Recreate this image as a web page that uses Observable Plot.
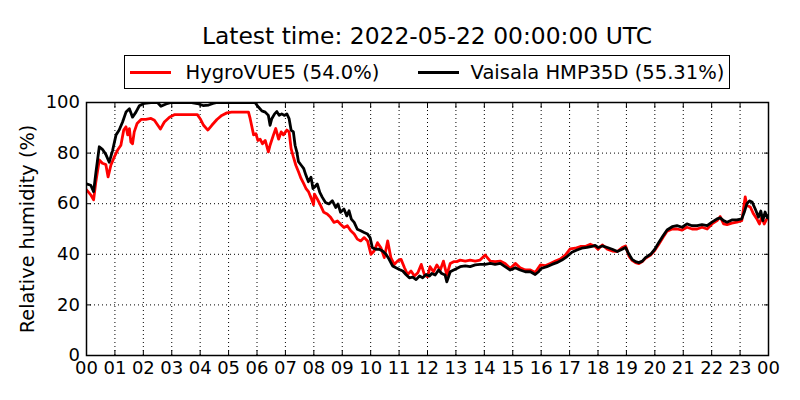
<!DOCTYPE html>
<html>
<head>
<meta charset="utf-8">
<script src="https://cdn.jsdelivr.net/npm/d3@7"></script>
<script src="https://cdn.jsdelivr.net/npm/@observablehq/plot@0.6"></script>
<style>
  body { margin: 0; background: #fff; font-family: "DejaVu Sans", sans-serif; color: #000; }
  #wrap { position: relative; width: 800px; height: 400px; overflow: hidden; }
  #title { position: absolute; left: 86px; width: 682px; top: 25px; text-align: center; font-size: 23.4px; line-height: 23.4px; white-space: nowrap; }
  #legend { position: absolute; left: 124px; top: 55px; width: 604px; height: 32px; border: 1px solid #000; font-size: 19.5px; }
  .item { position: absolute; top: 0; height: 32px; display: flex; align-items: center; white-space: nowrap; }
  .swatch { display: inline-block; width: 41px; height: 3px; }
  #chart { position: absolute; left: 0; top: 95px; }
</style>
</head>
<body>
<div id="wrap">
  <div id="title"></div>
  <div id="legend"></div>
  <div id="chart"></div>
</div>
<script>
const titleText = "Latest time: 2022-05-22 00:00:00 UTC";
const seriesNames = ["HygroVUE5 (54.0%)", "Vaisala HMP35D (55.31%)"];
const seriesColors = ["#ff0000", "#000000"];
const yLabel = "Relative humidity (%)";
const hourTicks = [0,1,2,3,4,5,6,7,8,9,10,11,12,13,14,15,16,17,18,19,20,21,22,23,24];
const hourTickLabels = ["00","01","02","03","04","05","06","07","08","09","10","11","12","13","14","15","16","17","18","19","20","21","22","23","00"];
const rhTicks = [0,20,40,60,80,100];

// HygroVUE5 (red): hour of day, relative humidity (%)
const redHour = [0,0.15,0.25,0.33,0.45,0.56,0.68,0.76,0.86,0.98,1.09,1.21,1.31,1.39,1.45,1.51,1.56,1.62,1.68,1.78,1.92,2.09,2.27,2.39,2.51,2.6,2.74,2.92,3.09,3.5,3.9,4.0,4.12,4.27,4.41,4.59,4.76,4.94,5.11,5.4,5.7,5.76,5.82,5.88,5.96,6.03,6.11,6.19,6.29,6.4,6.46,6.58,6.66,6.76,6.85,6.93,7.05,7.13,7.2,7.28,7.37,7.46,7.55,7.64,7.72,7.81,7.91,7.99,8.02,8.12,8.24,8.35,8.47,8.59,8.71,8.83,8.94,9.06,9.18,9.3,9.42,9.53,9.65,9.77,9.89,10.01,10.12,10.24,10.36,10.48,10.6,10.71,10.83,10.95,11.07,11.19,11.3,11.42,11.54,11.66,11.78,11.89,12.0,12.09,12.21,12.33,12.45,12.56,12.68,12.8,12.92,13.03,13.15,13.33,13.5,13.68,13.85,14.03,14.21,14.38,14.56,14.73,14.91,15.09,15.26,15.44,15.62,15.79,15.97,16.14,16.32,16.5,16.67,16.85,17.02,17.2,17.38,17.55,17.73,17.9,18.0,18.15,18.33,18.5,18.68,18.85,18.97,19.09,19.2,19.32,19.44,19.56,19.67,19.85,20.0,20.14,20.29,20.43,20.61,20.78,20.96,21.13,21.31,21.49,21.66,21.84,22.01,22.19,22.3,22.42,22.54,22.71,22.89,23.06,23.18,23.24,23.36,23.47,23.59,23.68,23.76,23.85,23.94,24.0];
const redRH = [65.5,63.5,61.5,68.7,77.3,76,75.5,70.6,75.3,78.5,81.1,83.1,89.1,90.4,87.2,89.7,84.4,83.7,88.4,91.7,93.3,93.3,93.7,93,91,89.5,92.3,94.2,95.2,95.2,95.2,93.6,91,89.1,91,93.3,94.9,95.9,96.2,96.2,96.2,93.6,90.4,87.2,87.7,85,85.5,83.7,85,80.5,83.1,87.2,89.7,85.5,88.4,87.2,89.1,88.4,81.8,78.5,75.1,72.6,70,68,66.1,64.8,62.1,59.6,63.8,61.9,59.2,56.6,55.9,54.6,52.6,53.2,51.9,50.6,51.3,49.3,48,46,45.3,46.6,45.3,40,41.3,44.6,42.6,38.7,45.3,38.7,36,37.4,38,34.7,32,33.4,31.4,32.7,36,32,31.1,35.1,33.1,35.8,33.8,37.3,31.8,36.4,37.1,37.1,37.7,37.3,37.7,37.3,37.7,39.7,37.3,37.1,37.3,36.4,34.4,36.4,34.7,33.8,33.8,32.8,35.8,35.5,36.4,37.3,38.1,39.7,42.1,42.4,43.1,43.1,44,43.1,42,43.7,42,41.3,41.1,42.7,43.3,39.3,37.6,36.7,36.3,37.1,38.4,39.7,41.6,44,46.7,49.1,50,50,49.6,50.7,50,50,50.7,50,52,53.3,54.9,52,51.7,52.3,52.7,53.3,62.7,59.3,58.7,56,54,52,54.7,52,54,54.0];

// Vaisala HMP35D (black): hour of day, relative humidity (%)
const blackHour = [0,0.15,0.25,0.33,0.45,0.56,0.68,0.8,0.92,1.04,1.15,1.27,1.39,1.51,1.62,1.74,1.86,2.04,2.27,2.5,2.62,2.8,2.98,3.3,3.7,3.9,4.1,4.3,4.45,4.6,5.2,5.88,5.94,6.05,6.17,6.29,6.4,6.46,6.52,6.62,6.7,6.78,6.87,6.97,7.05,7.13,7.2,7.28,7.34,7.4,7.46,7.55,7.64,7.72,7.81,7.9,7.97,8.02,8.12,8.21,8.3,8.41,8.53,8.65,8.77,8.85,8.94,9.06,9.16,9.24,9.32,9.42,9.53,9.65,9.77,9.89,9.98,10.06,10.18,10.3,10.42,10.54,10.65,10.77,10.89,11.01,11.13,11.24,11.36,11.48,11.6,11.72,11.83,11.95,12.07,12.15,12.27,12.39,12.5,12.62,12.68,12.8,12.92,13.03,13.15,13.33,13.5,13.68,13.85,14.03,14.21,14.38,14.56,14.73,14.91,15.09,15.26,15.44,15.62,15.79,15.91,16.0,16.2,16.38,16.55,16.73,16.91,17.08,17.26,17.43,17.61,17.79,17.9,18.0,18.15,18.33,18.5,18.68,18.85,18.97,19.09,19.2,19.32,19.44,19.56,19.67,19.85,20.0,20.14,20.29,20.43,20.61,20.78,20.96,21.13,21.31,21.49,21.66,21.84,22.01,22.19,22.3,22.42,22.54,22.71,22.89,23.06,23.15,23.24,23.33,23.42,23.53,23.65,23.73,23.8,23.88,23.96,24.0];
const blackRH = [67.8,67.3,64.8,72.3,82.5,81.5,79.5,76.4,81.1,87.2,89.1,92.3,96.2,97.5,94.2,96.2,98.7,99.7,100,100,98.5,99.4,100,100,100,99.6,98.8,99,99.6,100,100,100,99.8,98.2,96.7,96.2,94.9,91,93.6,95.5,96.4,94.9,95.5,94.9,95.5,93.6,89.1,88.4,83.1,80.5,76.6,75.3,74,71.3,68.7,70.5,66,66.5,67.8,64.5,62.5,60.5,59.9,61.2,58.5,59.9,56.6,57.9,55.2,57.2,53.9,52.6,49.9,49.3,48.6,48,46.6,42.6,42,42,41.3,40,38,35.4,34.7,34,33.4,32,30.7,31,30,31.4,30.7,32,31.4,32.4,31.8,33.8,32.4,31.8,29.1,33.1,33.8,34.4,35.1,35.4,35.1,35.8,36,36,36.4,36,36.4,35.1,33.8,34.7,33.8,33.1,33.1,32,33.1,34.4,35.1,36,36.7,37.7,39.1,40.8,41.7,42.4,42.7,43.1,43.5,42.7,43.3,42.7,42,41.1,42,42.7,40,38,37.1,36.7,37.3,38.7,40,42,44.7,47.3,49.6,50.9,51.3,50.7,52,51.3,51.3,51.7,51.3,52.7,54,54.4,53.3,52.7,53.6,53.6,54,56.7,60,61.1,60.7,58,54.7,57.1,53.3,56.7,54.5,55.3];

const red = redHour.map((h, i) => ({hour: h, rh: redRH[i]}));
const black = blackHour.map((h, i) => ({hour: h, rh: blackRH[i]}));

document.getElementById("title").textContent = titleText;
const legend = document.getElementById("legend");
const legendLeft = [5, 292.6];
const legendGap = [14.5, 12];
seriesNames.forEach((name, i) => {
  const it = document.createElement("div");
  it.className = "item";
  it.style.left = legendLeft[i] + "px";
  const sw = document.createElement("span");
  sw.className = "swatch";
  sw.style.background = seriesColors[i];
  sw.style.marginRight = legendGap[i] + "px";
  const tx = document.createElement("span");
  tx.textContent = name;
  it.appendChild(sw); it.appendChild(tx);
  legend.appendChild(it);
});

const fmt = d => hourTickLabels[hourTicks.indexOf(d)];
const blank = () => "";
const gridStyle = {stroke: "#000", strokeOpacity: 1, strokeWidth: 1, strokeDasharray: "1,3"};

const chart = Plot.plot({
  width: 800,
  height: 305,
  marginTop: 7,
  marginBottom: 45,
  marginLeft: 86,
  marginRight: 32,
  style: {fontFamily: "DejaVu Sans", fontSize: "18px", color: "#000", background: "#fff", overflow: "visible"},
  x: {domain: [0, 24]},
  y: {domain: [0, 100]},
  marks: [
    Plot.gridX(hourTicks, gridStyle),
    Plot.gridY(rhTicks, gridStyle),
    Plot.line(red, {x: "hour", y: "rh", stroke: seriesColors[0], strokeWidth: 2.8, clip: true}),
    Plot.line(black, {x: "hour", y: "rh", stroke: seriesColors[1], strokeWidth: 2.8, clip: true}),
    Plot.frame({stroke: "#000", strokeWidth: 1.5}),
    Plot.axisX(hourTicks, {anchor: "bottom", tickSize: -5, tickPadding: 10.5, tickFormat: fmt, label: null, fontSize: 18}),
    Plot.axisX(hourTicks, {anchor: "top", tickSize: -5, tickFormat: blank, label: null}),
    Plot.axisY(rhTicks, {anchor: "left", tickSize: -5, tickPadding: 11.5, fontSize: 18, label: null}),
    Plot.axisY(rhTicks, {anchor: "left", tickSize: 0, tickFormat: blank, fontSize: 19.3, label: yLabel, labelAnchor: "center", labelArrow: "none", labelOffset: 66}),
    Plot.axisY(rhTicks, {anchor: "right", tickSize: -5, tickFormat: blank, label: null})
  ]
});
document.getElementById("chart").appendChild(chart);
</script>
</body>
</html>
